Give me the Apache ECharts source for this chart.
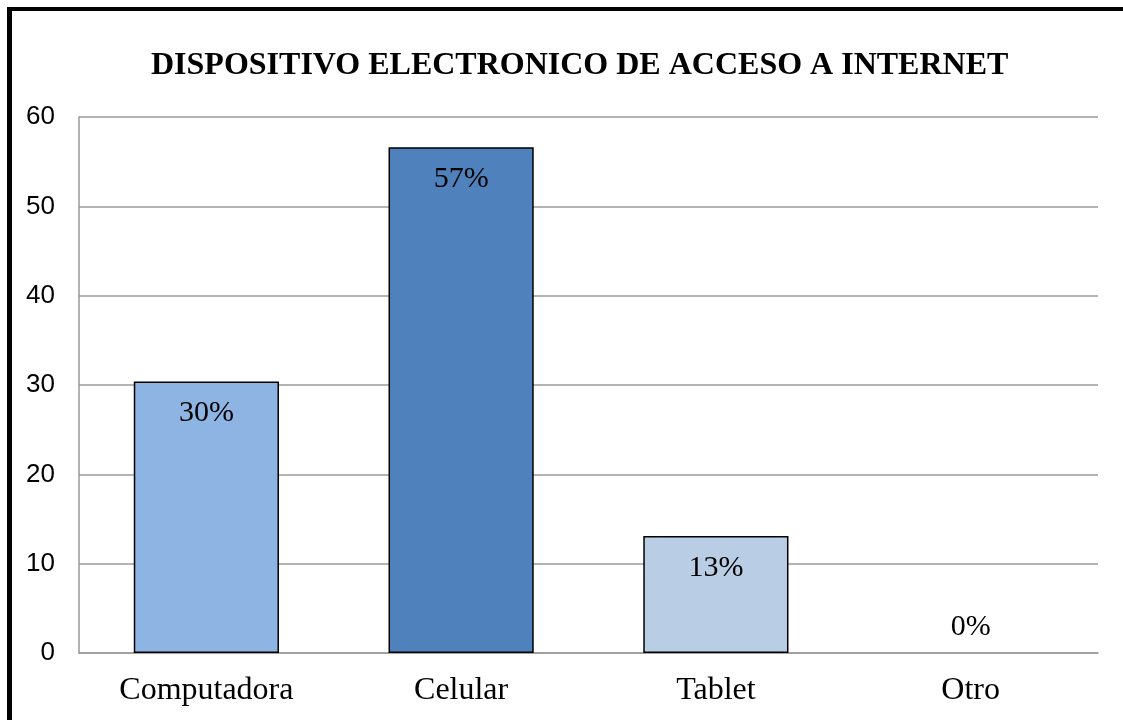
<!DOCTYPE html>
<html>
<head>
<meta charset="utf-8">
<script src="https://cdn.jsdelivr.net/npm/echarts@6/dist/echarts.min.js"></script>
<style>
  html, body { margin: 0; padding: 0; background: #fff; }
  #frame {
    position: absolute; left: 7px; top: 7px; width: 1140px; height: 740px;
    border-left: 5px solid #000; border-top: 4px solid #000; box-sizing: border-box;
  }
  #chart { position: absolute; left: 0; top: 0; width: 1123px; height: 720px; }
</style>
</head>
<body>
<div id="frame"></div>
<div id="chart"></div>
<script>
// datos del gráfico
const categories = ['Computadora', 'Celular', 'Tablet', 'Otro'];
const values = [30.4, 56.6, 13.1, 0];
const percentLabels = ['30%', '57%', '13%', '0%'];
const barColors = ['#8EB4E3', '#4F81BD', '#B9CDE5', '#B9CDE5'];
const yTicks = [0, 10, 20, 30, 40, 50, 60];

const serif = '"Liberation Serif", "Times New Roman", serif';
const sans = '"Liberation Sans", Arial, sans-serif';

const mychart = echarts.init(document.getElementById('chart'));

const option = {
  animation: false,
  title: {
    text: 'DISPOSITIVO ELECTRONICO DE ACCESO A INTERNET',
    left: 146,
    top: 45,
    textStyle: { fontFamily: serif, fontWeight: 'bold', fontSize: 32, color: '#000' },
  },
  grid: { left: 79, right: 25, top: 117, bottom: 67 },
  xAxis: {
    type: 'category',
    data: categories,
    axisTick: { show: false },
    axisLine: { show: true, lineStyle: { color: '#9a9a9a', width: 1.5 } },
    axisLabel: { fontFamily: serif, fontSize: 32, color: '#000', margin: 22 },
  },
  yAxis: {
    type: 'value',
    min: yTicks[0],
    max: yTicks[yTicks.length - 1],
    interval: 10,
    axisTick: { show: false },
    axisLine: { show: true, lineStyle: { color: '#9a9a9a', width: 1.5 } },
    splitLine: { show: true, lineStyle: { color: '#9a9a9a', width: 1.5 } },
    axisLabel: { fontFamily: sans, fontSize: 26, color: '#000', margin: 24 },
  },
  series: [
    {
      type: 'bar',
      barWidth: '57%',
      data: values.map((v, i) => ({
        value: v,
        itemStyle: {
          color: barColors[i],
          borderColor: '#000',
          borderWidth: v > 0 ? 1.5 : 0,
        },
        label: v > 0
          ? { position: 'insideTop', distance: 17 }
          : { position: 'top', distance: 11 },
      })),
      label: {
        show: true,
        fontFamily: serif,
        fontSize: 30,
        color: '#000',
        formatter: (p) => percentLabels[p.dataIndex],
      },
    },
  ],
};

mychart.setOption(option);
</script>
</body>
</html>
